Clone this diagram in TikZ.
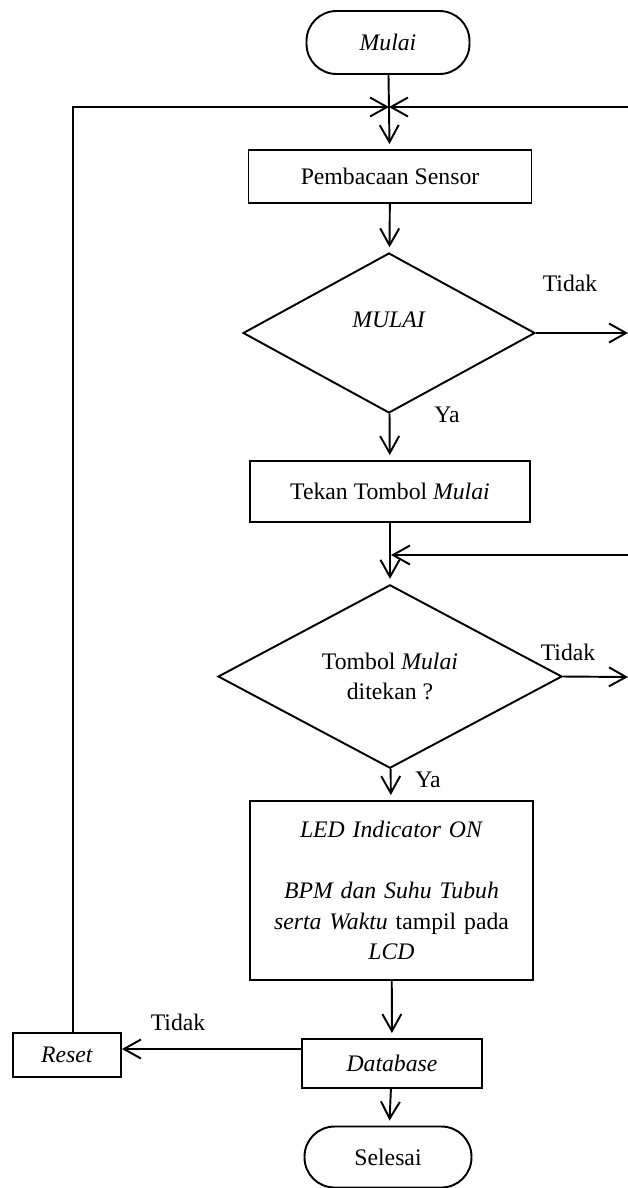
\documentclass[tikz,border=0pt]{standalone}
\usepackage{fontspec}
\setmainfont{Liberation Serif}
\usepackage{tikz}
\usetikzlibrary{arrows.meta,shapes.geometric}
\newcommand\flowfont{\fontsize{13.5pt}{17.4pt}\selectfont}

\begin{document}
\begin{tikzpicture}[x=0.02cm,y=-0.02cm,line width=1.1pt,font=\flowfont,
    term/.style={draw,rectangle,rounded corners=0.6cm,inner sep=0pt},
    proc/.style={draw,rectangle,inner sep=0pt,align=center},
    decide/.style={draw,diamond,inner sep=0pt,align=center},
    flow/.style={-{Straight Barb[length=0.34cm,width=0.38cm]}},
    down/.style={flow,shorten >=0.1cm}]
    \useasboundingbox (0,0) rectangle (628,1188);
    \node[term,minimum width=3.26cm,minimum height=1.26cm](mulai) at (388,42.5){\textit{Mulai}};
    \node[proc,minimum width=5.66cm,minimum height=1.06cm](baca) at (390,176.5){Pembacaan Sensor};
    \node[decide,minimum width=5.84cm,minimum height=3.2cm](cek1) at (389,333){};
    \node (cek1t) at (389,320){\textit{MULAI}};
    \node[proc,minimum width=5.6cm,minimum height=1.22cm](tekan) at (390,491.5){Tekan Tombol \textit{Mulai}};
    \node[decide,minimum width=6.88cm,minimum height=3.22cm](cek2) at (390,676.5){Tombol \textit{Mulai}\\ditekan ?};
    \node[proc,text width=5.4cm,minimum width=5.66cm,minimum height=3.58cm](led) at (391.5,890.5){\textit{LED Indicator ON}\\[0.61cm]\textit{BPM dan Suhu Tubuh}\\\textit{serta Waktu} tampil pada\\\textit{LCD}};
    \node[proc,minimum width=3.6cm,minimum height=0.98cm](db) at (392,1063.5){\textit{Database}};
    \node[proc,minimum width=2.16cm,minimum height=0.88cm](reset) at (67,1055){\textit{Reset}};
    \node[term,minimum width=3.34cm,minimum height=1.22cm](selesai) at (388,1157){Selesai};
    \coordinate (j1) at (389,107);
    \coordinate (kiri) at (73,107);
    \coordinate (kanan1) at (628,107);
    \coordinate (j2) at (391,555);
    \coordinate (kanan2) at (628,555);
    \coordinate (keluar1) at (628,333);
    \coordinate (keluar2) at (628,677);
    \coordinate (dbkiri) at (302,1049);
    \draw[down] (mulai) -- (baca);
    \draw[flow] (reset.north -| kiri) -- (kiri) -- (j1);
    \draw[flow] (kanan1) -- (j1);
    \draw[down] (baca) -- (cek1);
    \draw[flow] (cek1.east) -- (keluar1);
    \draw[down] (cek1) -- (tekan);
    \draw[down] (tekan) -- (cek2);
    \draw[flow] (kanan2) -- (j2);
    \draw[flow] (cek2.east) -- (keluar2);
    \draw[down] (cek2) -- (led);
    \draw[down] (led) -- (db);
    \draw[flow] (dbkiri) -- (dbkiri -| reset.east);
    \draw[down] (db) -- (selesai);
    \node (tidak1) at (570,283){Tidak};
    \node (ya1) at (447,415){Ya};
    \node (tidak2) at (568,652){Tidak};
    \node (ya2) at (428,780){Ya};
    \node (tidak3) at (178,1022){Tidak};
\end{tikzpicture}
\end{document}
